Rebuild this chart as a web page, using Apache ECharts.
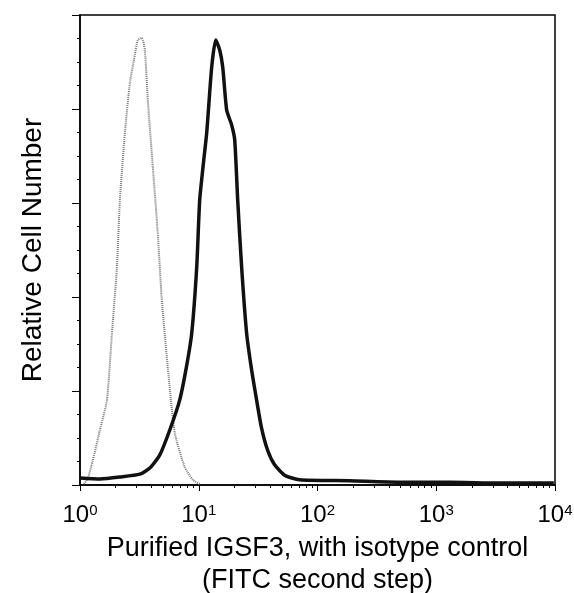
<!DOCTYPE html>
<html><head><meta charset="utf-8">
<script src="https://cdn.jsdelivr.net/npm/echarts@6/dist/echarts.min.js"></script>
<style>html,body{margin:0;padding:0;background:#fff}#c{width:574px;height:593px}</style>
</head><body><div id="c"></div>
<script>
// log10 fluorescence, relative count (0-100)
const isoLogX = [0.034,0.067,0.109,0.168,0.227,0.269,0.311,0.336,0.378,0.420,0.462,0.487,0.521,0.546,0.571,0.613,0.655,0.689,0.739,0.798,0.882,0.950,1.008];
const isoY    = [0.2,1.5,5.3,11.7,18.1,32.3,46.4,60.6,74.9,85.5,91.5,94.7,95.1,92.6,81.9,67.7,53.6,39.4,25.1,11.1,3.8,1.1,0.2];
const igLogX = [0,0.168,0.336,0.504,0.588,0.672,0.756,0.840,0.899,0.941,0.983,1.008,1.042,1.067,1.109,1.143,1.176,1.202,1.235,1.277,1.303,1.328,1.361,1.403,1.445,1.487,1.529,1.580,1.639,1.723,1.849,2.269,2.689,3.109,3.529,3.99];
const igY    = [1.5,1.3,1.7,2.3,3.6,6.4,11.7,18.1,25.5,32.3,46.4,60.6,69.1,74.9,88.9,94.7,92.6,88.9,79.8,76.6,73.4,60.6,46.4,32.3,24.5,18.1,12.1,7.4,4.3,2.1,1.1,0.9,0.6,0.6,0.4,0.4];
const xTickExp = ['0','1','2','3','4'];

const toPts = (xs, ys) => xs.map((v, i) => [Math.pow(10, v), ys[i]]);
const chart = echarts.init(document.getElementById('c'));
const F = 'Liberation Sans, Arial, sans-serif';
chart.setOption({
  animation: false,
  grid: {left: 80, right: 19, top: 15, bottom: 108, show: true, borderColor: '#000', borderWidth: 1.5, outerBoundsMode: 'none', containLabel: false},
  xAxis: {
    type: 'log', logBase: 10, min: 1, max: 10000,
    axisLine: {lineStyle: {color: '#000', width: 1.5}},
    axisTick: {length: 6, lineStyle: {color: '#000'}},
    minorTick: {show: true, splitNumber: 9, length: 3, lineStyle: {color: '#000'}},
    splitLine: {show: false},
    axisLabel: {
      margin: 18, color: '#000', fontFamily: F,
      formatter: v => { const e = Math.round(Math.log10(v)); return '{b|10}{s|' + xTickExp[e] + '}'; },
      rich: {b: {fontSize: 24, fontFamily: F, color: '#000'}, s: {fontSize: 15, fontFamily: F, color: '#000', verticalAlign: 'top', padding: [0,0,10,0]}}
    },
    name: 'Purified IGSF3, with isotype control\n(FITC second step)',
    nameLocation: 'middle', nameGap: 48,
    nameTextStyle: {fontSize: 27, fontFamily: F, color: '#000', lineHeight: 32}
  },
  yAxis: {
    type: 'value', min: 0, max: 100, interval: 20,
    axisLine: {show: true, lineStyle: {color: '#000', width: 1.5}},
    axisTick: {show: true, length: 8, lineStyle: {color: '#000'}},
    minorTick: {show: true, splitNumber: 4, length: 3, lineStyle: {color: '#000'}},
    axisLabel: {show: false}, splitLine: {show: false},
    name: 'Relative Cell Number', nameLocation: 'middle', nameGap: 33,
    nameTextStyle: {fontSize: 28, fontFamily: F, color: '#000'}
  },
  series: [
    {type: 'line', data: toPts(isoLogX, isoY), smooth: 0.2, symbol: 'none',
     lineStyle: {color: '#777', width: 2, type: [1, 1]}},
    {type: 'line', data: toPts(igLogX, igY), smooth: 0.2, symbol: 'none',
     lineStyle: {color: '#111', width: 3.5}}
  ]
});
</script></body></html>
